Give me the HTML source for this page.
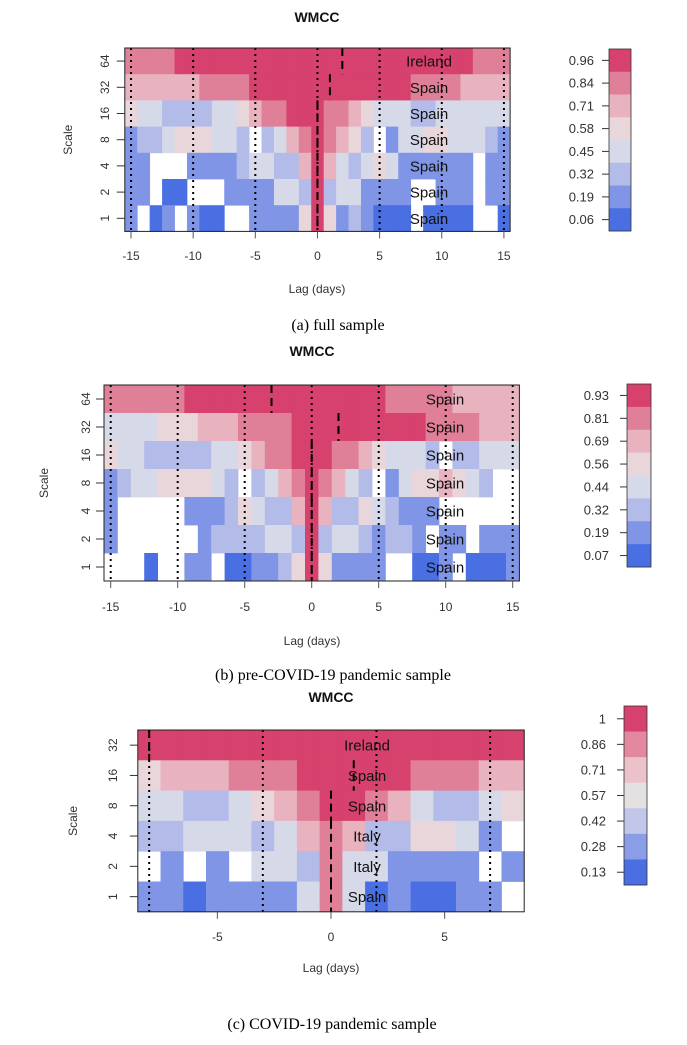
<!DOCTYPE html>
<html><head><meta charset="utf-8"><style>
html,body{margin:0;padding:0;background:#fff;}
svg{display:block;font-family:"Liberation Sans",Arial,sans-serif;}
.cap{font-family:"Liberation Serif",serif;font-size:16px;}
</style></head><body>
<svg id="fig" width="687" height="1045" viewBox="0 0 687 1045" xmlns="http://www.w3.org/2000/svg"></svg>
<script>
const palette8=['#4a6fe3','#8195e6','#b3bbe8','#d6d9e8','#e8d6da','#e8b2bf','#e07f98','#d7416d'];
const palette7=['#4a6fe3','#8a9de7','#c2c7e9','#e3e1e2','#ebc1ca','#e2899f','#d7416d'];
const scalesA=['64','32','16','8','4','2','1'];
const lagsA=[-15,15];
const cellsA=[
[6,6,6,6,7,7,7,7,7,7,7,7,7,7,7,7,7,7,7,7,7,7,7,7,7,7,7,7,6,6,6],
[5,5,5,5,5,5,6,6,6,6,7,7,7,7,7,7,7,7,7,7,7,7,7,6,6,6,6,5,5,5,5],
[4,3,3,2,2,2,2,3,3,4,5,6,6,7,7,7,6,6,5,4,3,3,3,2,2,3,3,3,3,3,3],
[1,2,2,3,4,4,4,3,3,2,-1,2,3,5,6,7,6,5,4,2,-1,1,3,3,4,4,3,3,3,2,1],
[1,1,-1,-1,-1,1,1,1,1,2,3,3,2,2,5,7,5,3,2,3,4,3,1,1,1,1,1,1,-1,1,1],
[1,1,-1,0,0,-1,-1,-1,1,1,1,1,3,3,2,7,2,3,3,1,1,1,1,-1,-1,1,1,1,-1,1,1],
[1,-1,0,1,-1,1,0,0,-1,-1,1,1,1,1,4,7,4,1,2,1,0,0,0,-1,0,0,0,0,-1,-1,0]];
const dashA=[2,1,0,0,0,0,0];
const labelsA=['Ireland','Spain','Spain','Spain','Spain','Spain','Spain'];
const dottedA=[-15,-10,-5,0,5,10,15];
const ticksA=[-15,-10,-5,0,5,10,15];
const legendA=['0.96','0.84','0.71','0.58','0.45','0.32','0.19','0.06'];

const scalesB=['64','32','16','8','4','2','1'];
const lagsB=[-15,15];
const cellsB=[
[6,6,6,6,6,6,7,7,7,7,7,7,7,7,7,7,7,7,7,7,7,6,6,6,6,6,5,5,5,5,5],
[3,3,3,3,4,4,4,5,5,5,6,6,6,6,7,7,7,7,7,7,7,7,7,7,6,6,6,6,5,5,5],
[4,3,3,2,2,2,2,2,3,3,4,5,6,6,7,7,7,6,6,5,4,3,3,3,2,-1,2,2,3,3,3],
[1,2,3,3,4,4,4,4,3,2,-1,2,3,5,6,7,6,5,3,2,-1,1,3,4,4,5,4,3,2,-1,-1],
[1,-1,-1,-1,-1,-1,1,1,1,2,4,3,2,2,5,7,5,2,2,4,3,2,1,1,1,-1,-1,-1,-1,-1,-1],
[1,-1,-1,-1,-1,-1,-1,1,2,2,2,2,3,3,2,7,2,3,3,2,1,2,2,1,-1,1,1,-1,1,1,1],
[-1,-1,-1,0,-1,-1,1,1,-1,0,0,1,1,2,4,7,4,1,1,1,1,-1,-1,0,0,1,-1,0,0,0,1]];
const dashB=[-3,2,0,0,0,0,0];
const labelsB=['Spain','Spain','Spain','Spain','Spain','Spain','Spain'];
const dottedB=[-15,-10,-5,0,5,10,15];
const ticksB=[-15,-10,-5,0,5,10,15];
const legendB=['0.93','0.81','0.69','0.56','0.44','0.32','0.19','0.07'];

const scalesC=['32','16','8','4','2','1'];
const lagsC=[-8,8];
const cellsC=[
[7,7,7,7,7,7,7,7,7,7,7,7,7,7,7,7,7],
[4,5,5,5,6,6,6,7,7,7,7,7,6,6,6,5,5],
[3,3,2,2,3,4,5,6,7,7,6,5,3,2,2,3,4],
[2,2,3,3,3,2,3,5,6,5,2,2,4,4,3,1,-1],
[-1,1,-1,1,-1,3,3,2,6,3,3,1,1,1,1,-1,1],
[1,1,0,1,1,1,1,3,6,3,0,1,0,0,1,1,-1]];
const dashC=[-8,1,0,0,0,0];
const labelsC=['Ireland','Spain','Spain','Italy','Italy','Spain'];
const dottedC=[-8,-3,2,7];
const ticksC=[-5,0,5];
const legendC=['1','0.86','0.71','0.57','0.42','0.28','0.13'];

const NS='http://www.w3.org/2000/svg';
const svg=document.getElementById('fig');
function mk(tag,attrs,parent){const e=document.createElementNS(NS,tag);for(const k in attrs)e.setAttribute(k,attrs[k]);(parent||svg).appendChild(e);return e;}
function txt(s,attrs,parent){const e=mk('text',attrs,parent);e.textContent=s;return e;}

function panel(P){
  const g=mk('g',{});
  
  
  const nR=P.cells.length;
  const xOf=l=>P.x0+(l-P.lags[0]+0.5)*P.dx;
  const yOf=r=>P.top+r*P.rh;
  const left=xOf(P.lags[0])-P.dx/2, right=xOf(P.lags[1])+P.dx/2, bottom=yOf(nR);
  P.cells.forEach((row,r)=>row.forEach((v,c)=>{
    if(v<0)return;
    const rc=mk('rect',{x:(left+c*P.dx).toFixed(2),y:yOf(r).toFixed(2),width:(P.dx+0.4).toFixed(2),height:(P.rh+0.4).toFixed(2),fill:P.pal[Math.min(v,P.pal.length-1)]},g);
    
    
  }));
  P.dotted.forEach(l=>{const ln=mk('line',{x1:xOf(l),y1:P.top,x2:xOf(l),y2:bottom,stroke:'#000','stroke-width':2,'stroke-dasharray':'2,4'},g);
    });
  P.dash.forEach((l,r)=>{const ln=mk('line',{x1:xOf(l),y1:yOf(r),x2:xOf(l),y2:yOf(r+1),stroke:'#000','stroke-width':2,'stroke-dasharray':'8,5'},g);
    });
  P.labels.forEach((s,r)=>{const t=txt(s,{x:P.labX,y:yOf(r)+P.rh/2+5.5,'text-anchor':'middle','font-size':15,fill:'#111'},g);
    });
  const bx=mk('rect',{x:left,y:P.top,width:right-left,height:bottom-P.top,fill:'none',stroke:'#222','stroke-width':1},g);
  
  P.scales.forEach((s,r)=>{const y=yOf(r)+P.rh/2;mk('line',{x1:left-8,y1:y,x2:left,y2:y,stroke:'#333'},g);
    const t=txt(s,{x:P.yLabX,y:y,'text-anchor':'middle','font-size':12,fill:'#333',transform:`rotate(-90 ${P.yLabX} ${y})`},g);
    });
  const st=txt('Scale',{x:P.scaleX,y:(P.top+bottom)/2,'text-anchor':'middle','font-size':12,fill:'#333',transform:`rotate(-90 ${P.scaleX} ${(P.top+bottom)/2})`},g);
  
  P.ticks.forEach(l=>{const x=xOf(l);mk('line',{x1:x,y1:bottom,x2:x,y2:bottom+7,stroke:'#555'},g);
    const t=txt(String(l),{x:x,y:P.tickY,'text-anchor':'middle','font-size':12,fill:'#333'},g);
    });
  const xt=txt('Lag (days)',{x:P.titleX,y:P.lagY,'text-anchor':'middle','font-size':12,fill:'#333'},g);
  
  const tt=txt('WMCC',{x:P.titleX,y:P.titleY,'text-anchor':'middle','font-size':14,'font-weight':'bold',fill:'#111'},g);
  
  const cp=txt(P.caption,{x:P.capX,y:P.capY,'text-anchor':'middle',class:'cap',fill:'#000'},g);
  
  const n=P.legend.length, lh=(P.lgB-P.lgT)/n;
  P.legend.forEach((s,i)=>{const y=P.lgT+i*lh;
    const rc=mk('rect',{x:P.lgX,y:y,width:P.lgW,height:lh+0.3,fill:P.lpal[n-1-i]},g);
    
    mk('line',{x1:P.lgX-7,y1:y+lh/2,x2:P.lgX,y2:y+lh/2,stroke:'#333'},g);
    const t=txt(s,{x:P.lgLabR,y:y+lh/2+4.5,'text-anchor':'end','font-size':13,fill:'#333'},g);
    });
  mk('rect',{x:P.lgX,y:P.lgT,width:P.lgW,height:P.lgB-P.lgT,fill:'none',stroke:'#333','stroke-width':0.8},g);
}
panel({name:'panel-full-sample',cells:cellsA,scales:scalesA,lags:lagsA,dash:dashA,labels:labelsA,dotted:dottedA,ticks:ticksA,legend:legendA,
  pal:palette8,lpal:palette8,x0:124.8,dx:12.43,top:48,rh:26.2,labX:429,yLabX:109,scaleX:72,tickY:260,lagY:293,titleX:317,titleY:22,
  caption:'(a) full sample',capX:338,capY:330,lgX:609,lgW:22,lgT:49,lgB:231,lgLabR:594});
panel({name:'panel-pre-covid',cells:cellsB,scales:scalesB,lags:lagsB,dash:dashB,labels:labelsB,dotted:dottedB,ticks:ticksB,legend:legendB,
  pal:palette8,lpal:palette8,x0:104,dx:13.4,top:385,rh:28,labX:445,yLabX:90,scaleX:48,tickY:611,lagY:645,titleX:312,titleY:356,
  caption:'(b) pre-COVID-19 pandemic sample',capX:333,capY:680,lgX:627,lgW:24,lgT:384,lgB:567,lgLabR:609});
panel({name:'panel-covid',cells:cellsC,scales:scalesC,lags:lagsC,dash:dashC,labels:labelsC,dotted:dottedC,ticks:ticksC,legend:legendC,
  pal:palette8,lpal:palette7,x0:137.8,dx:22.73,top:730,rh:30.3,labX:367,yLabX:117,scaleX:77,tickY:941,lagY:972,titleX:331,titleY:702,
  caption:'(c) COVID-19 pandemic sample',capX:332,capY:1029,lgX:624,lgW:23,lgT:706,lgB:885,lgLabR:606});
</script>
</body></html>
